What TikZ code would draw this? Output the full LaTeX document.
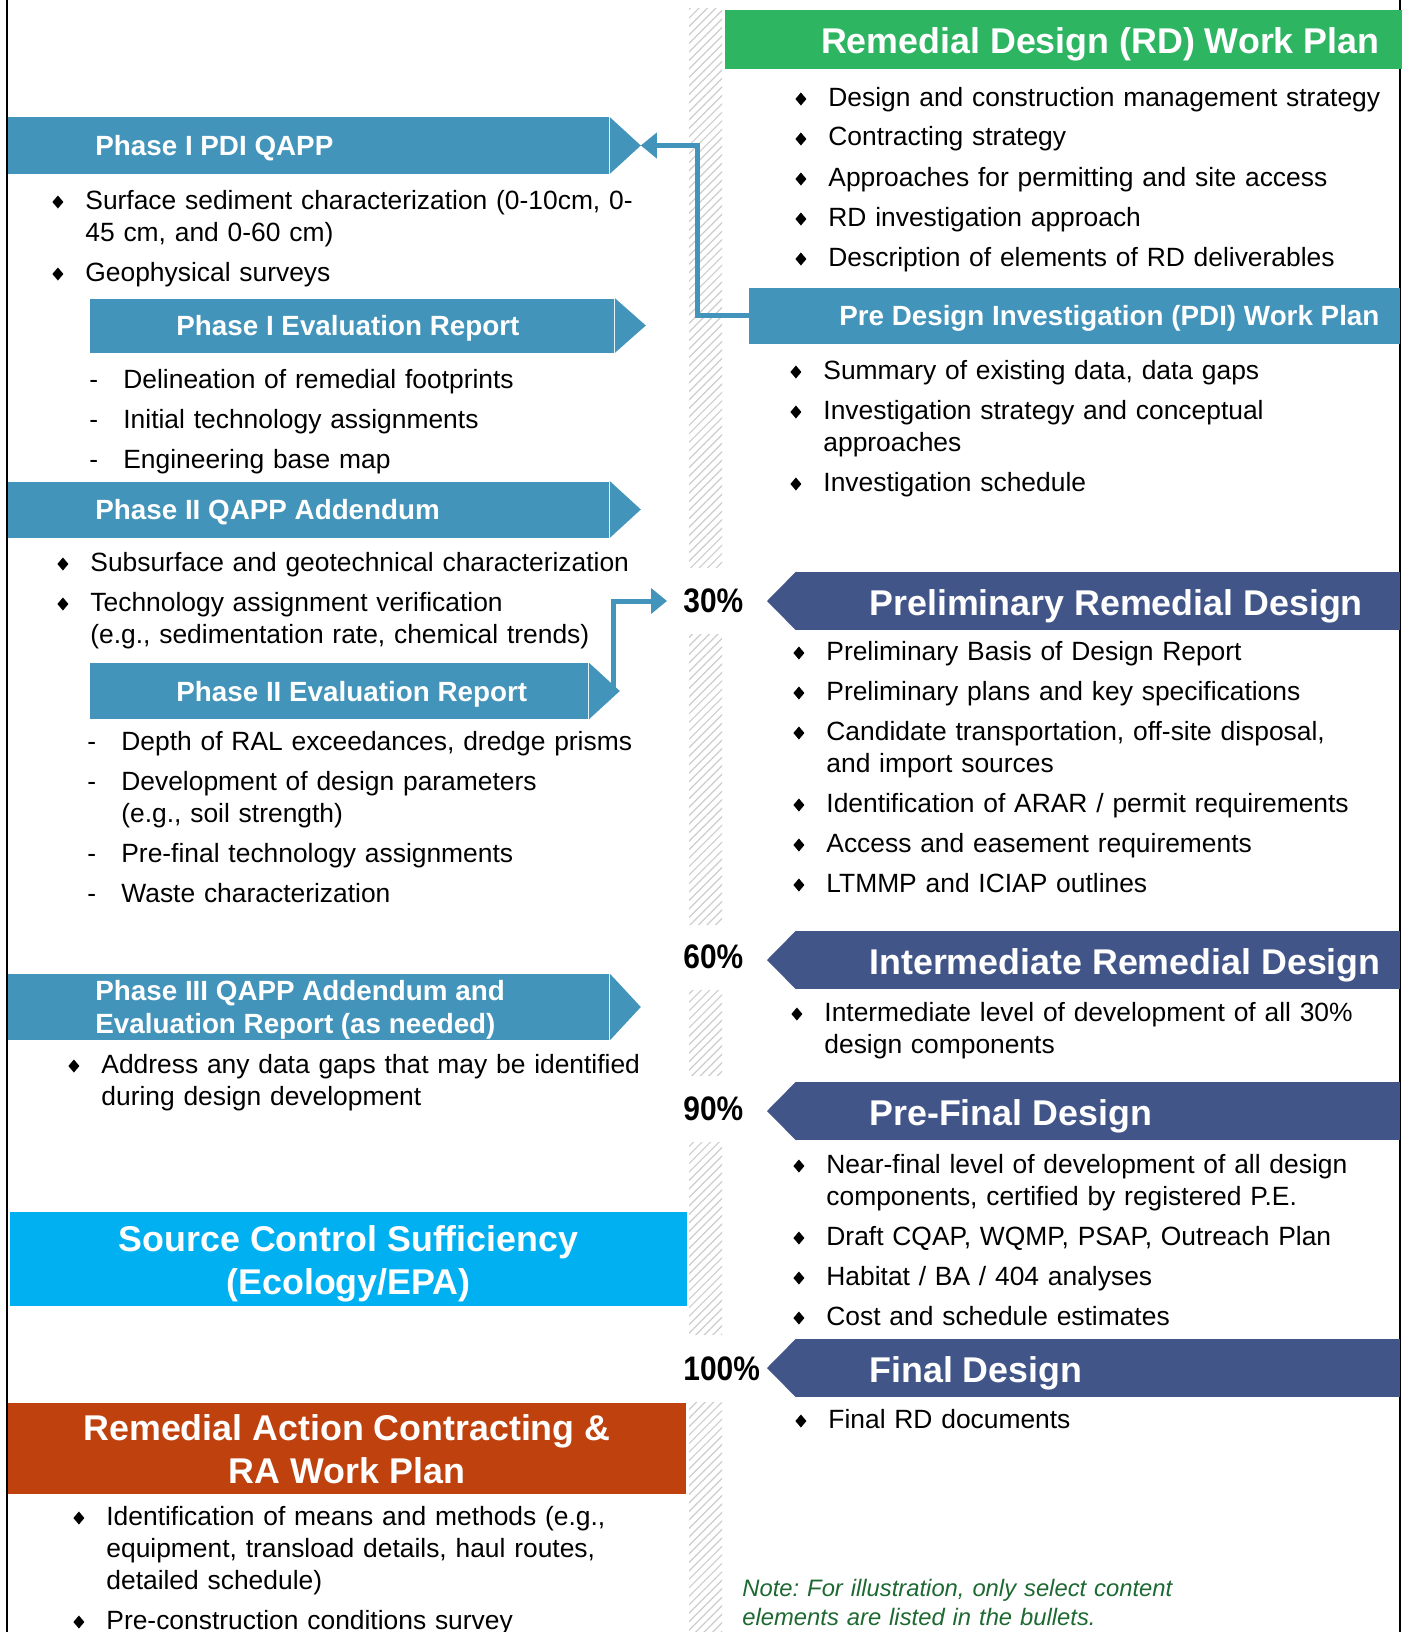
\documentclass[tikz,border=0pt]{standalone}
\usepackage{fontspec}
\setmainfont{Liberation Sans}
\usetikzlibrary{arrows.meta,positioning,patterns.meta}

\definecolor{phaseblue}{RGB}{67,148,186}
\definecolor{designblue}{RGB}{66,85,136}
\definecolor{plangreen}{RGB}{46,181,98}
\definecolor{sourcecyan}{RGB}{0,176,240}
\definecolor{actionred}{RGB}{190,65,14}
\definecolor{notegreen}{RGB}{30,105,50}

\newcommand{\bodyfont}{\fontsize{13.2}{16}\selectfont}
% bullet marks
\newcommand{\dmd}{\tikz[baseline=-3.5pt]\fill (0,0) -- (2.75pt,3.25pt) -- (5.5pt,0) -- (2.75pt,-3.25pt) -- cycle;}
\newcommand{\ditem}[1]{\hangindent=16.5pt\hangafter=1\noindent\makebox[16.5pt][l]{\dmd}#1\par}
\newcommand{\hitem}[1]{\hangindent=17pt\hangafter=1\noindent\makebox[17pt][l]{-}#1\par}

\begin{document}
\begin{tikzpicture}[
		x=0.5pt, y=-0.5pt,
		every node/.style={inner sep=0pt},
		bar/.style={fill=#1, minimum height=28pt, anchor=west},
		phasebar/.style={bar=phaseblue},
		designbar/.style={bar=designblue, minimum width=302pt, minimum height=29pt},
		phasetext/.style={text=white, font=\fontsize{13.9}{16.5}\selectfont\bfseries, align=left, yshift=-1.5pt},
		headtext/.style={text=white, font=\fontsize{17.9}{21.5}\selectfont\bfseries, align=center, yshift=-2.5pt},
		pct/.style={font=\fontsize{17}{20}\selectfont\bfseries, anchor=west},
		list/.style={anchor=base west, text width=#1, align=left, font=\bodyfont,
			execute at begin node={\setlength{\parskip}{4pt}}},
		hatch/.style={pattern={Lines[angle=45,distance=3pt,line width=0.6pt]}, pattern color=gray!40},
		link/.style={draw=phaseblue, line width=2.5pt, -{Triangle[length=8pt,width=12.5pt]}}
	]
	\useasboundingbox (0,0) rectangle (1406,1632);
	
	% hatched spine
	\foreach \ya/\yb in {9/567, 634/924, 990/1075, 1142/1334, 1402/1632}
		\fill[hatch] (689,\ya) rectangle (722,\yb);
	\draw[line width=1pt] (7,0) -- (7,1632);
	\draw[line width=1pt] (1400,0) -- (1400,1632);
	
	% right column: work plans
	\node[bar=plangreen, minimum width=338.5pt, minimum height=29.5pt] (rdplan) at (725,39.5) {};
	\node[headtext, left=11.5pt of rdplan.east] (rdplan-lbl) {Remedial Design (RD) Work Plan};
	\node[list=320pt] (rdplan-items) at (795,106) {%
		\ditem{Design and construction management strategy}
		\ditem{Contracting strategy}
		\ditem{Approaches for permitting and site access}
		\ditem{RD investigation approach}
		\ditem{Description of elements of RD deliverables}};
	
	\node[phasebar, minimum width=325.5pt] (pdiplan) at (749,315.5) {};
	\node[phasetext, left=10.5pt of pdiplan.east] (pdiplan-lbl) {Pre Design Investigation (PDI) Work Plan};
	\node[list=320pt] (pdiplan-items) at (790,379) {%
		\ditem{Summary of existing data, data gaps}
		\ditem{Investigation strategy and conceptual\newline approaches}
		\ditem{Investigation schedule}};
	
	% right column: design stages
	\node[designbar] (prelim) at (796,601) {};
	\node[designbar] (inter) at (796,960) {};
	\node[designbar] (prefinal) at (796,1111) {};
	\node[designbar] (final) at (796,1368) {};
	\foreach \n in {prelim,inter,prefinal,final}
		\fill[designblue] (\n.north west) -- ([xshift=-14.5pt]\n.west) -- (\n.south west) -- cycle;
	\node[headtext, right=36.5pt of prelim.west] (prelim-lbl) {Preliminary Remedial Design};
	\node[headtext, right=36.5pt of inter.west] (inter-lbl) {Intermediate Remedial Design};
	\node[headtext, right=36.5pt of prefinal.west] (prefinal-lbl) {Pre-Final Design};
	\node[headtext, right=36.5pt of final.west] (final-lbl) {Final Design};
	
	\node[pct] (p30) at (683,601) {\scalebox{0.88}[1]{30\%}};
	\node[pct] (p60) at (683,957) {\scalebox{0.88}[1]{60\%}};
	\node[pct] (p90) at (683,1109) {\scalebox{0.88}[1]{90\%}};
	\node[pct] (p100) at (683,1369) {\scalebox{0.88}[1]{100\%}};
	
	\node[list=320pt] (prelim-items) at (793,660) {%
		\ditem{Preliminary Basis of Design Report}
		\ditem{Preliminary plans and key specifications}
		\ditem{Candidate transportation, off-site disposal,\newline and import sources}
		\ditem{Identification of ARAR / permit requirements}
		\ditem{Access and easement requirements}
		\ditem{LTMMP and ICIAP outlines}};
	\node[list=320pt] (inter-items) at (791,1021) {%
		\ditem{Intermediate level of development of all 30\%\newline design components}};
	\node[list=320pt] (prefinal-items) at (793,1173) {%
		\ditem{Near-final level of development of all design\newline components, certified by registered P.E.}
		\ditem{Draft CQAP, WQMP, PSAP, Outreach Plan}
		\ditem{Habitat / BA / 404 analyses}
		\ditem{Cost and schedule estimates}};
	\node[list=320pt] (final-items) at (795,1428) {%
		\ditem{Final RD documents}};
	
	\node[anchor=base west, text width=260pt, align=left, text=notegreen,
		font=\fontsize{11.9}{14.5}\selectfont\itshape\frenchspacing] (note) at (742,1596)
		{Note: For illustration, only select content\newline elements are listed in the bullets.};
	
	% left column: investigation phases
	\node[phasebar, minimum width=300.5pt] (qapp1) at (8,145.5) {};
	\node[phasebar, minimum width=262pt, minimum height=27pt] (eval1) at (90,325.5) {};
	\node[phasebar, minimum width=300.5pt] (qapp2) at (8,509.5) {};
	\node[phasebar, minimum width=249pt] (eval2) at (90,691) {};
	\node[phasebar, minimum width=300.5pt, minimum height=33pt] (qapp3) at (8,1007) {};
	\foreach \n in {qapp1,eval1,qapp2,eval2,qapp3}
		\fill[phaseblue] (\n.north east) -- ([xshift=15.5pt]\n.east) coordinate (\n-tip) -- (\n.south east) -- cycle;
	
	\node[phasetext, right=43.5pt of qapp1.west] (qapp1-lbl) {Phase I PDI QAPP};
	\node[phasetext, right=43pt of eval1.west] (eval1-lbl) {Phase I Evaluation Report};
	\node[phasetext, right=43.5pt of qapp2.west] (qapp2-lbl) {Phase II QAPP Addendum};
	\node[phasetext, right=43pt of eval2.west] (eval2-lbl) {Phase II Evaluation Report};
	\node[phasetext, right=43.5pt of qapp3.west] (qapp3-lbl) {Phase III QAPP Addendum and\\Evaluation Report (as needed)};
	
	\node[list=330pt] (qapp1-items) at (52,209) {%
		\ditem{Surface sediment characterization (0-10cm, 0-\newline 45 cm, and 0-60 cm)}
		\ditem{Geophysical surveys}};
	\node[list=330pt] (eval1-items) at (89,388) {%
		\hitem{Delineation of remedial footprints}
		\hitem{Initial technology assignments}
		\hitem{Engineering base map}};
	\node[list=330pt] (qapp2-items) at (57,571) {%
		\ditem{Subsurface and geotechnical characterization}
		\ditem{Technology assignment verification\newline (e.g., sedimentation rate, chemical trends)}};
	\node[list=330pt] (eval2-items) at (87,750) {%
		\hitem{Depth of RAL exceedances, dredge prisms}
		\hitem{Development of design parameters\newline (e.g., soil strength)}
		\hitem{Pre-final technology assignments}
		\hitem{Waste characterization}};
	\node[list=330pt] (qapp3-items) at (68,1073) {%
		\ditem{Address any data gaps that may be identified\newline during design development}};
	
	% left column: sufficiency and remedial action
	\node[fill=sourcecyan, minimum width=338.5pt, minimum height=47pt] (source) at (348.5,1259) {};
	\node[headtext] (source-lbl) at (source) {Source Control Sufficiency\\(Ecology/EPA)};
	\node[fill=actionred, minimum width=339pt, minimum height=45.5pt] (action) at (347,1448.5) {};
	\node[headtext, yshift=2pt] (action-lbl) at (action) {Remedial Action Contracting \&\\RA Work Plan};
	\node[list=330pt] (action-items) at (73,1525) {%
		\ditem{Identification of means and methods (e.g.,\newline equipment, transload details, haul routes,\newline detailed schedule)}
		\ditem{Pre-construction conditions survey}};
	
	% hand-offs
	\draw[link] (pdiplan.west) -- ++(-52,0) |- (qapp1-tip);
	\draw[link, shorten >=8pt] ([xshift=-3pt]eval2-tip) |- (p30.west);
\end{tikzpicture}
\end{document}
